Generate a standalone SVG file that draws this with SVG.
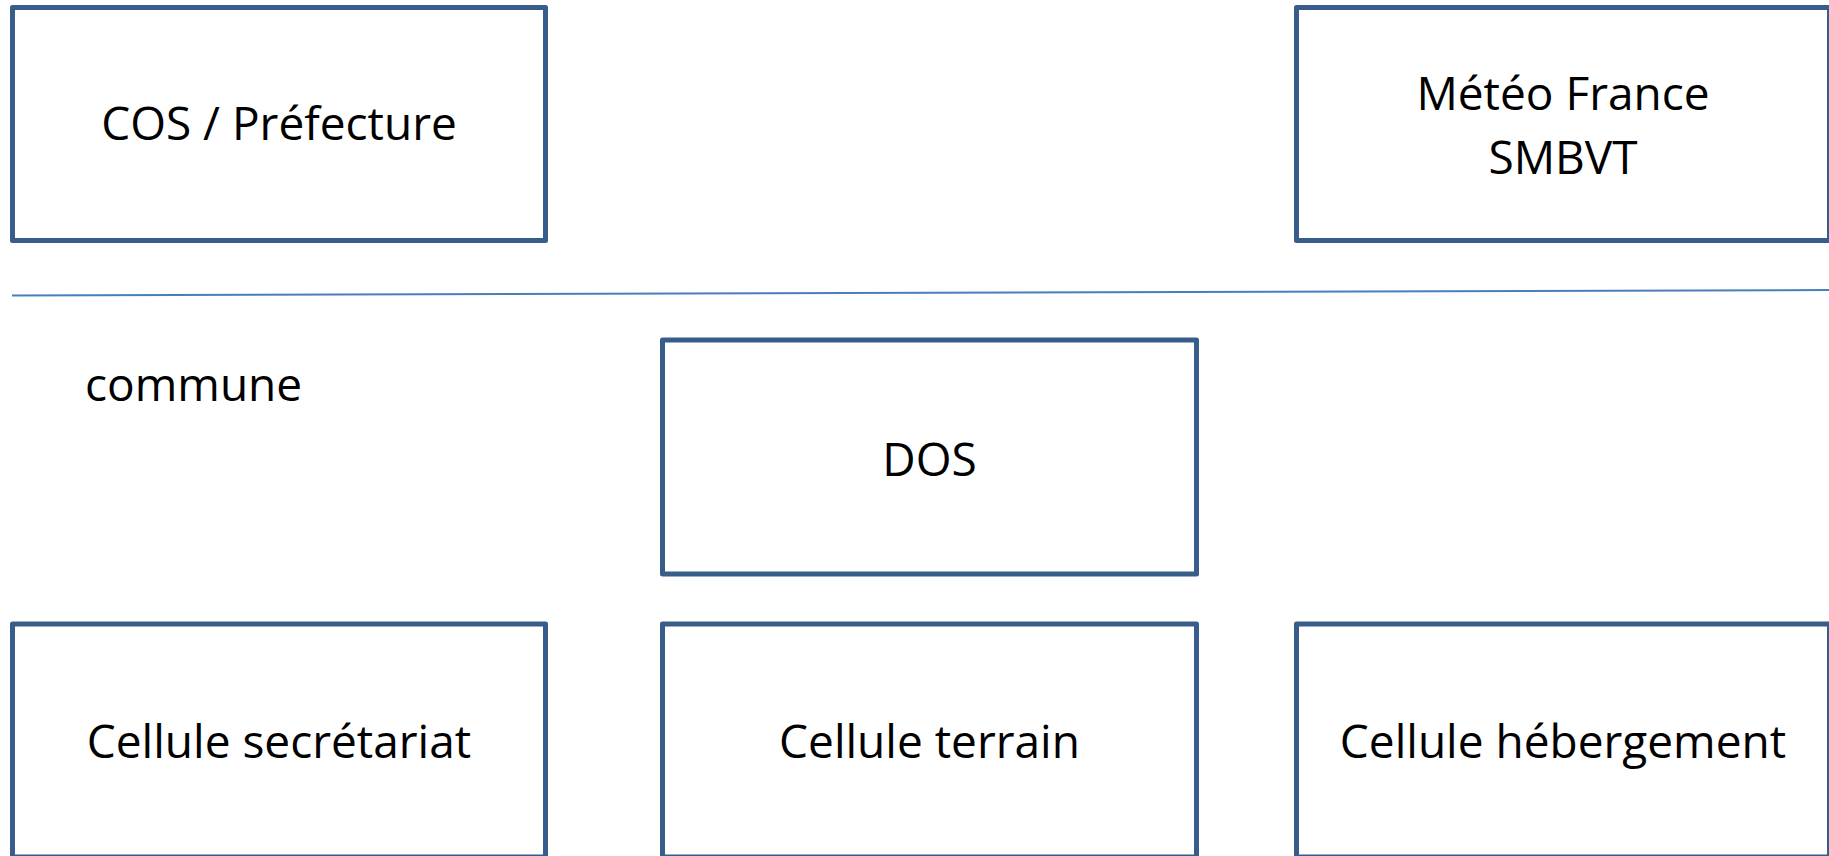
<svg xmlns="http://www.w3.org/2000/svg" width="1829" height="856" viewBox="0 0 1829 856">
<style>
.box{fill:#ffffff;stroke:#385d8a;stroke-width:5;stroke-linejoin:round}
.t{font-family:"Open Sans","Liberation Sans",sans-serif;font-size:46px;fill:#000000}
.c{text-anchor:middle}
</style>
<rect width="1829" height="856" fill="#ffffff"/>
<g id="connectors">
<line x1="12" y1="295.5" x2="1829" y2="290" stroke="#4a7ebb" stroke-width="2"/>
</g>
<g id="cos">
<rect class="box" x="12.5" y="7.5" width="533" height="233"/>
<text class="t c" x="279" y="140">COS / Préfecture</text>
</g>
<g id="meteo">
<rect class="box" x="1296.5" y="7.5" width="533" height="233"/>
<text class="t c" x="1563" y="110">Météo France</text>
<text class="t c" x="1563" y="174">SMBVT</text>
</g>
<g id="commune">
<text class="t" x="85" y="401">commune</text>
</g>
<g id="dos">
<rect class="box" x="662.5" y="340" width="534" height="234"/>
<text class="t c" x="929.5" y="476">DOS</text>
</g>
<g id="secretariat">
<rect class="box" x="12.5" y="624" width="533" height="233"/>
<text class="t c" x="279" y="758">Cellule secrétariat</text>
</g>
<g id="terrain">
<rect class="box" x="662.5" y="624" width="534" height="233"/>
<text class="t c" x="929.5" y="758">Cellule terrain</text>
</g>
<g id="hebergement">
<rect class="box" x="1296.5" y="624" width="533" height="233"/>
<text class="t c" x="1563" y="758">Cellule hébergement</text>
</g>
</svg>
